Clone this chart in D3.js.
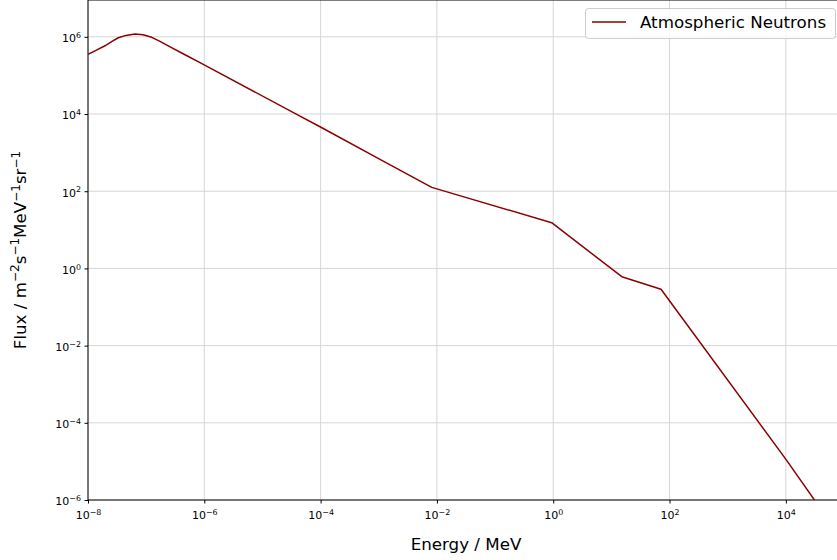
<!DOCTYPE html>
<html>
<head>
<meta charset="utf-8">
<script src="https://cdn.jsdelivr.net/npm/d3@7"></script>
<style>
  body { margin: 0; background: #fff; }
  svg { font-family: "DejaVu Sans", sans-serif; }
</style>
</head>
<body>
<div id="chart"></div>
<script>
// values (MeV, m^-2 s^-1 MeV^-1 sr^-1)
var energy = [1e-8, 1.37e-8, 1.96e-8, 2.59e-8, 3.32e-8, 4.5e-8, 6.43e-8, 8.83e-8,
              1.25e-7, 1.73e-7, 2.4e-7, 4.66e-7, 9.6e-7, 3.88e-5, 9.77e-5, 1.05e-3,
              8.15e-3, 0.94, 15.1, 71.4, 1.04e4, 3.18e4];
var flux = [3.52e5, 4.47e5, 5.87e5, 7.64e5, 9.48e5, 1.09e6, 1.18e6, 1.13e6,
            9.7e5, 7.64e5, 5.85e5, 3.44e5, 1.94e5, 9.8e3, 4.69e3, 670,
            126, 15.3, 0.61, 0.288, 1.05e-5, 9.5e-7];
var xTicks = [1e-8, 1e-6, 1e-4, 1e-2, 1e0, 1e2, 1e4];
var yTicks = [1e-6, 1e-4, 1e-2, 1e0, 1e2, 1e4, 1e6];
var seriesName = "Atmospheric Neutrons";

function init() {
    var w = 837, h = 560;
    var left = 88, right = 844, top = 0, bottom = 500;

    var xScale = d3.scaleLog().domain([1e-8, 1e5]).range([left, right]);
    var yScale = d3.scaleLog().domain([1e-6, 9e6]).range([bottom, top]);

    var svg = d3.select("#chart").append("svg")
        .attr("width", w).attr("height", h);

    svg.append("clipPath").attr("id", "plot")
        .append("rect")
        .attr("x", left).attr("y", top)
        .attr("width", right - left).attr("height", bottom - top);

    // grid
    svg.append("g").selectAll("line").data(xTicks).enter().append("line")
        .attr("x1", function(d) { return xScale(d); })
        .attr("x2", function(d) { return xScale(d); })
        .attr("y1", top).attr("y2", bottom)
        .attr("stroke", "#d6d6d6").attr("stroke-width", 1);
    svg.append("g").selectAll("line").data(yTicks).enter().append("line")
        .attr("y1", function(d) { return yScale(d); })
        .attr("y2", function(d) { return yScale(d); })
        .attr("x1", left).attr("x2", right)
        .attr("stroke", "#d6d6d6").attr("stroke-width", 1);

    function expLabel(d) {
        var t = d3.select(this);
        var e = Math.round(Math.log10(d));
        t.text(null);
        t.append("tspan").text("10");
        t.append("tspan").attr("dy", "-0.55em").attr("font-size", "0.72em")
            .text(e < 0 ? "\u2212" + (-e) : e);
    }

    var xAxis = d3.axisBottom(xScale).tickValues(xTicks).tickSize(3.5).tickPadding(3.5)
        .tickFormat(function() { return ""; });
    var gx = svg.append("g").attr("transform", "translate(0," + bottom + ")").call(xAxis);
    gx.select(".domain").remove();
    gx.selectAll(".tick line").attr("stroke", "#000");
    gx.selectAll(".tick text").attr("font-size", 11).attr("fill", "#000")
        .attr("font-family", "DejaVu Sans").attr("dy", "1.1em").each(expLabel);

    var yAxis = d3.axisLeft(yScale).tickValues(yTicks).tickSize(3.5).tickPadding(3.5)
        .tickFormat(function() { return ""; });
    var gy = svg.append("g").attr("transform", "translate(" + left + ",0)").call(yAxis);
    gy.select(".domain").remove();
    gy.selectAll(".tick line").attr("stroke", "#000");
    gy.selectAll(".tick text").attr("font-size", 11).attr("fill", "#000")
        .attr("font-family", "DejaVu Sans").attr("dy", "0.45em").each(expLabel);

    // spines
    svg.append("line").attr("x1", left).attr("x2", left).attr("y1", top).attr("y2", bottom)
        .attr("stroke", "#000").attr("stroke-width", 1);
    svg.append("line").attr("x1", left).attr("x2", right).attr("y1", bottom).attr("y2", bottom)
        .attr("stroke", "#000").attr("stroke-width", 1);
    svg.append("line").attr("x1", left).attr("x2", right).attr("y1", top).attr("y2", top)
        .attr("stroke", "#000").attr("stroke-width", 1);

    // the curve
    var line = d3.line()
        .x(function(d, i) { return xScale(energy[i]); })
        .y(function(d) { return yScale(d); });
    svg.append("path")
        .datum(flux)
        .attr("clip-path", "url(#plot)")
        .attr("d", line)
        .attr("fill", "none")
        .attr("stroke", "#8b0000")
        .attr("stroke-width", 1.5)
        .attr("stroke-linejoin", "round");

    // legend
    var lg = svg.append("g");
    lg.append("rect").attr("x", 585.5).attr("y", 8.5).attr("width", 250).attr("height", 30)
        .attr("rx", 3).attr("fill", "#fff").attr("fill-opacity", 0.8)
        .attr("stroke", "#cccccc").attr("stroke-width", 1);
    lg.append("line").attr("x1", 592).attr("x2", 626).attr("y1", 22).attr("y2", 22)
        .attr("stroke", "#8b0000").attr("stroke-width", 1.5);
    lg.append("text").attr("x", 640).attr("y", 28).attr("font-size", 16.7)
        .attr("fill", "#000").text(seriesName);

    // axis labels
    svg.append("text").attr("x", (left + right) / 2).attr("y", 550)
        .attr("text-anchor", "middle").attr("font-size", 16.7).text("Energy / MeV");

    var yl = svg.append("text").attr("transform", "translate(26,250) rotate(-90)")
        .attr("text-anchor", "middle").attr("font-size", 16.7);
    var parts = [["Flux / m", ""], ["\u22122", "sup"], ["s", ""], ["\u22121", "sup"],
                 ["MeV", ""], ["\u22121", "sup"], ["sr", ""], ["\u22121", "sup"]];
    var up = false;
    parts.forEach(function(p) {
        var ts = yl.append("tspan").text(p[0]);
        if (p[1] === "sup") {
            ts.attr("font-size", "0.72em").attr("dy", "-0.55em");
            up = true;
        } else if (up) {
            ts.attr("dy", "0.4em");
            up = false;
        }
    });
}

window.onload = init;
</script>
</body>
</html>
